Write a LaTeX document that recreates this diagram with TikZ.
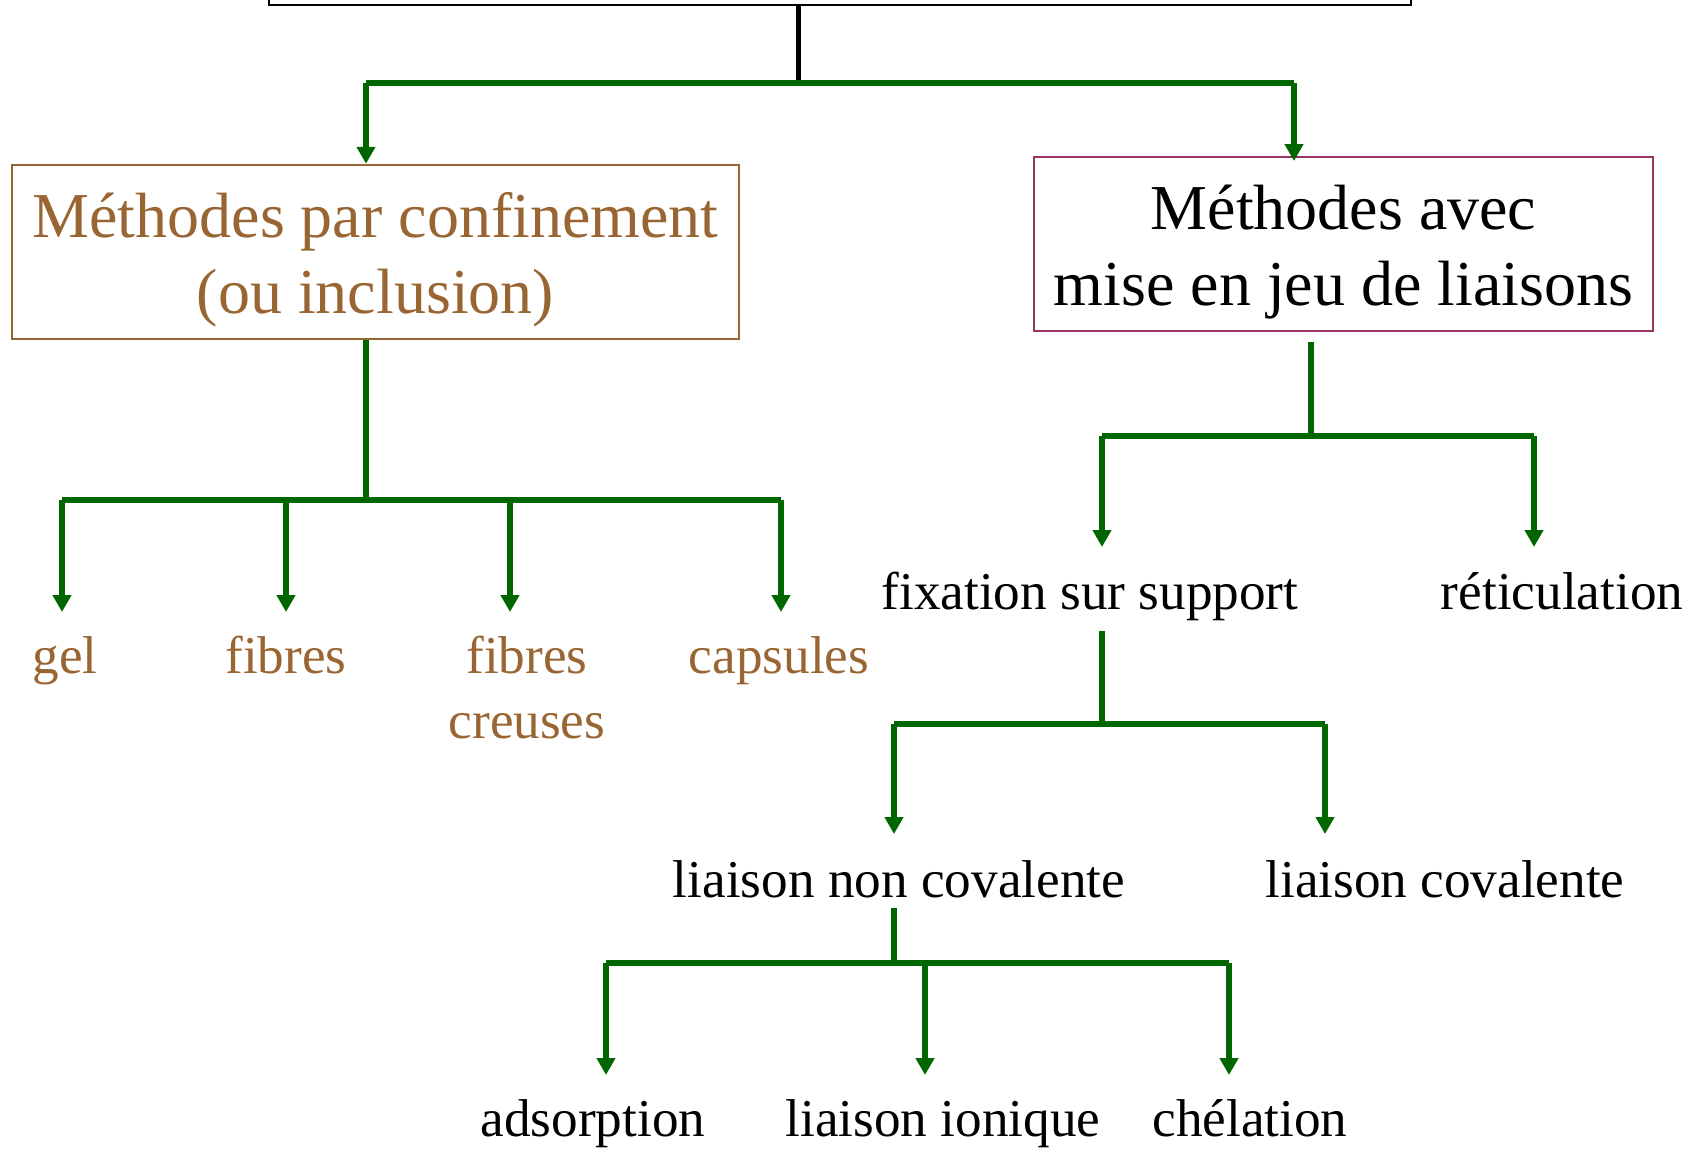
\documentclass[tikz,border=0pt]{standalone}
\usepackage{fontspec}
\setmainfont{Liberation Serif}
\usetikzlibrary{arrows.meta}
\definecolor{vert}{RGB}{0,102,0}
\definecolor{brun}{RGB}{153,102,51}
\definecolor{prune}{RGB}{153,51,102}
\newcommand{\lowline}[1]{\raisebox{-4pt}[\height][\depth]{#1}}
\tikzset{
  bar/.style={vert, line width=3.2pt},
  stem/.style={vert, line width=2.8pt},
  arr/.style={vert, line width=2.8pt, -{Triangle[length=8.5pt,width=9pt]}},
  lab/.style={anchor=base, inner sep=0pt, align=center, font=\fontsize{26.6}{32.5}\selectfont},
  boxe/.style={draw, line width=1pt, inner sep=0pt, align=center, font=\fontsize{32}{38}\selectfont},
}
\begin{document}
\begin{tikzpicture}[x=0.5pt, y=-0.5pt]
\useasboundingbox (0,0) rectangle (1697,1148);
\node[draw, line width=1pt, minimum width=571pt, minimum height=50pt] (top) at (840,-45){};
\node[boxe, brun, text=brun, minimum width=363.5pt, minimum height=87.25pt] (conf) at (375.5,252){\lowline{Méthodes par confinement}\\\lowline{(ou inclusion)}};
\node[boxe, prune, text=black, minimum width=309.5pt, minimum height=87pt] (liais) at (1343.5,244){\lowline{Méthodes avec}\\\lowline{mise en jeu de liaisons}};
\coordinate (b0) at (798,83);
\coordinate (a1) at (366,83);
\coordinate (a2) at (1294,83);
\draw[line width=2.5pt](top.south -| b0) -- (b0);
\draw[bar](a1) -- (a2);
\draw[arr](a1) -- (a1 |- conf.north);
\draw[arr, shorten >=-2.5pt](a2) -- (a2 |- liais.north);
\node[lab, brun] (gel) at (65,673){gel};
\node[lab, brun] (fib) at (286,673){fibres};
\node[lab, brun] (fibc) at (527,738){fibres\\creuses};
\node[lab, brun] (caps) at (779,673){capsules};
\coordinate (c0) at (366,500);
\coordinate (g1) at (62,500);
\coordinate (g2) at (286,500);
\coordinate (g3) at (510,500);
\coordinate (g4) at (781,500);
\coordinate (e1) at (62,612);
\coordinate (e2) at (286,612);
\coordinate (e3) at (510,612);
\coordinate (e4) at (781,612);
\draw[stem](conf.south -| c0) -- (c0);
\draw[bar](g1) -- (g4);
\draw[arr](g1) -- (e1);
\draw[arr](g2) -- (e2);
\draw[arr](g3) -- (e3);
\draw[arr](g4) -- (e4);
\node[lab] (fix) at (1090,609){fixation sur support};
\node[lab] (ret) at (1562,609){réticulation};
\coordinate (d0) at (1311,436);
\coordinate (h1) at (1102,436);
\coordinate (h2) at (1534,436);
\coordinate (k1) at (1102,547);
\coordinate (k2) at (1534,547);
\draw[stem, shorten <=5pt](liais.south -| d0) -- (d0);
\draw[bar](h1) -- (h2);
\draw[arr](h1) -- (k1);
\draw[arr](h2) -- (k2);
\node[lab] (nonc) at (899,897){liaison non covalente};
\node[lab] (cov) at (1445,897){liaison covalente};
\coordinate (m0) at (1102,724);
\coordinate (n1) at (894,724);
\coordinate (n2) at (1325,724);
\coordinate (p1) at (894,834);
\coordinate (p2) at (1325,834);
\draw[stem, shorten <=5pt](fix.south -| m0) -- (m0);
\draw[bar](n1) -- (n2);
\draw[arr](n1) -- (p1);
\draw[arr](n2) -- (p2);
\node[lab] (ads) at (593,1136){adsorption};
\node[lab] (ion) at (943,1136){liaison ionique};
\node[lab] (chel) at (1250,1136){chélation};
\coordinate (q0) at (894,963);
\coordinate (r1) at (606,963);
\coordinate (r2) at (925,963);
\coordinate (r3) at (1229,963);
\coordinate (s1) at (606,1075);
\coordinate (s2) at (925,1075);
\coordinate (s3) at (1229,1075);
\draw[stem, shorten <=5pt](nonc.south -| q0) -- (q0);
\draw[bar](r1) -- (r3);
\draw[arr](r1) -- (s1);
\draw[arr](r2) -- (s2);
\draw[arr](r3) -- (s3);
\end{tikzpicture}
\end{document}
